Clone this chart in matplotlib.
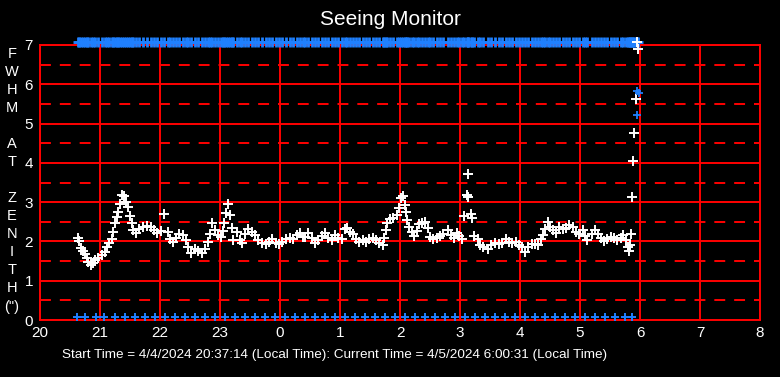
import matplotlib
matplotlib.use('Agg')
from matplotlib import pyplot as plt

plt.rcParams['font.family'] = ['Liberation Sans', 'DejaVu Sans']

# seeing samples (hour of night, 24+ = after midnight) and FWHM in arcsec
times = [20.638, 20.655, 20.683, 20.712, 20.750, 20.778, 20.805, 20.845, 20.878, 20.917,
         20.972, 21.028, 21.083, 21.122, 21.155, 21.195, 21.222, 21.250, 21.278, 21.305,
         21.333, 21.362, 21.400, 21.433, 21.472, 21.500, 21.528, 21.555, 21.600, 21.655,
         21.722, 21.788, 21.845, 21.900, 21.955, 22.012, 22.072, 22.138, 22.167, 22.212,
         22.267, 22.322, 22.378, 22.433, 22.472, 22.517, 22.583, 22.638, 22.695, 22.750,
         22.805, 22.833, 22.872, 22.917, 22.972, 23.017, 23.055, 23.072, 23.095, 23.138,
         23.167, 23.195, 23.222, 23.278, 23.333, 23.362, 23.417, 23.472, 23.528, 23.583,
         23.638, 23.705, 23.762, 23.817, 23.872, 23.928, 23.983, 24.038, 24.095, 24.167,
         24.222, 24.278, 24.333, 24.388, 24.417, 24.472, 24.528, 24.583, 24.638, 24.695,
         24.750, 24.805, 24.862, 24.917, 24.972, 25.028, 25.083, 25.122, 25.167, 25.212,
         25.267, 25.322, 25.378, 25.433, 25.488, 25.545, 25.600, 25.655, 25.712, 25.733,
         25.762, 25.788, 25.833, 25.888, 25.945, 25.978, 26.012, 26.045, 26.078, 26.100,
         26.122, 26.155, 26.195, 26.233, 26.278, 26.322, 26.362, 26.417, 26.462, 26.500,
         26.555, 26.612, 26.667, 26.722, 26.795, 26.850, 26.905, 26.945, 26.983, 27.028,
         27.072, 27.112, 27.128, 27.138, 27.183, 27.195, 27.238, 27.295, 27.333, 27.388,
         27.462, 27.517, 27.583, 27.650, 27.705, 27.762, 27.817, 27.872, 27.928, 27.983,
         28.038, 28.083, 28.138, 28.195, 28.250, 28.305, 28.345, 28.378, 28.417, 28.472,
         28.500, 28.555, 28.600, 28.655, 28.712, 28.767, 28.822, 28.878, 28.933, 28.988,
         29.045, 29.083, 29.122, 29.195, 29.250, 29.305, 29.345, 29.400, 29.455, 29.512,
         29.567, 29.622, 29.678, 29.722, 29.767, 29.805, 29.817, 29.833, 29.850, 29.872,
         29.888, 29.905, 29.933, 29.955, 29.972]
fwhm = [2.10, 2.00, 1.84, 1.76, 1.68, 1.57, 1.48, 1.40, 1.44, 1.54,
        1.59, 1.65, 1.74, 1.87, 1.97, 2.05, 2.25, 2.48, 2.63, 2.76,
        2.95, 3.18, 3.16, 3.01, 2.88, 2.65, 2.46, 2.29, 2.22, 2.31,
        2.37, 2.40, 2.36, 2.29, 2.22, 2.27, 2.71, 2.25, 2.05, 1.99,
        2.08, 2.19, 2.16, 2.04, 1.87, 1.70, 1.82, 1.76, 1.71, 1.82,
        1.99, 2.20, 2.46, 2.29, 2.16, 2.12, 2.27, 2.48, 2.73, 2.95,
        2.67, 2.33, 2.04, 2.25, 2.04, 1.95, 2.20, 2.31, 2.25, 2.16,
        2.04, 1.97, 1.93, 1.99, 2.05, 1.97, 1.93, 1.99, 2.05, 2.10,
        2.05, 2.16, 2.22, 2.12, 2.12, 2.22, 2.08, 1.95, 2.04, 2.14,
        2.22, 2.10, 2.04, 2.16, 2.08, 2.05, 2.31, 2.33, 2.25, 2.19,
        2.05, 1.99, 2.04, 1.99, 2.05, 2.08, 2.04, 1.97, 1.91, 2.10,
        2.29, 2.46, 2.56, 2.59, 2.67, 2.84, 3.10, 3.16, 2.93, 2.76,
        2.55, 2.37, 2.25, 2.14, 2.27, 2.44, 2.48, 2.50, 2.33, 2.12,
        2.05, 2.10, 2.14, 2.20, 2.29, 2.16, 2.10, 2.22, 2.14, 2.05,
        2.65, 3.18, 3.72, 3.12, 2.71, 2.59, 2.14, 2.05, 1.91, 1.85,
        1.82, 1.91, 1.95, 1.93, 1.95, 2.05, 1.99, 1.97, 1.99, 1.91,
        1.85, 1.74, 1.85, 1.93, 1.93, 1.91, 2.05, 2.16, 2.31, 2.50,
        2.37, 2.29, 2.22, 2.37, 2.31, 2.33, 2.42, 2.36, 2.25, 2.20,
        2.29, 2.14, 2.04, 2.20, 2.29, 2.20, 2.08, 2.02, 2.05, 2.12,
        2.10, 2.04, 2.10, 2.16, 2.04, 1.87, 1.76, 1.91, 2.19, 3.12,
        4.05, 4.75, 5.62, 7.07, 6.90]

# blue points near the end of the night
blue_t = [29.945, 29.988, 29.955]
blue_v = [5.84, 5.77, 5.21]

# blue markers along the bottom edge
bottom_t = [20.62, 20.75, 20.93, 21.07, 21.25, 21.42, 21.58, 21.75, 21.92, 22.08,
            22.25, 22.42, 22.58, 22.75, 22.92, 23.08, 23.25, 23.42, 23.58, 23.75,
            23.92, 24.08, 24.25, 24.42, 24.58, 24.75, 24.92, 25.08, 25.25, 25.42,
            25.58, 25.75, 25.92, 26.08, 26.25, 26.42, 26.58, 26.75, 26.92, 27.08,
            27.25, 27.42, 27.58, 27.75, 27.92, 28.08, 28.25, 28.42, 28.58, 28.75,
            28.92, 29.08, 29.25, 29.42, 29.58, 29.75, 29.87]

hour_ticks = list(range(20, 33))
hour_labels = ['20', '21', '22', '23', '0', '1', '2', '3', '4', '5', '6', '7', '8']

red = '#ff0000'
blue = '#1f80ff'

fig = plt.figure(figsize=(7.8, 3.77), dpi=100, facecolor='black')
ax = fig.add_axes([40 / 780, 57 / 377, 720 / 780, 275 / 377], facecolor='black')
ax.set_xlim(20, 32)
ax.set_ylim(0, 7)

# grid: solid at whole numbers, dashed at halves
for h in hour_ticks:
    ax.axvline(h, color=red, lw=1.4, zorder=1)
for y in range(0, 8):
    ax.axhline(y, color=red, lw=1.4, zorder=1)
for y in range(7):
    ax.axhline(y + 0.5, color=red, lw=1.4, dashes=(5.6, 4.6), zorder=1)

for s in ax.spines.values():
    s.set_color(red)
    s.set_linewidth(1.4)

ax.plot(times, [7.07] * len(times), '+', color=blue, ms=6.5, mew=2.0, clip_on=False, zorder=3)
ax.plot(bottom_t, [0.07] * len(bottom_t), '+', color=blue, ms=6, mew=1.4, clip_on=False, zorder=3)
ax.plot(times, fwhm, '+', color='white', ms=6.5, mew=1.4, clip_on=False, zorder=4)
ax.plot(blue_t, blue_v, '+', color=blue, ms=6, mew=1.3, zorder=5)

ax.set_xticks(hour_ticks)
ax.set_xticklabels(hour_labels)
ax.set_yticks(range(8))
ax.tick_params(colors='white', labelsize=11, length=0)
ax.tick_params(axis='x', pad=4)
ax.tick_params(axis='y', pad=5)

fig.text(0.5, 0.947, 'Seeing Monitor', color='white', fontsize=15, ha='center', va='center')
fig.text(12 / 780, 0.5225, 'F\nW\nH\nM\n\nA\nT\n\nZ\nE\nN\nI\nT\nH\n(")', color='white',
         fontsize=10.5, ha='center', va='center', linespacing=1.37)
fig.text(0.4295, 0.0584,
         'Start Time = 4/4/2024 20:37:14 (Local Time): Current Time = 4/5/2024 6:00:31 (Local Time)',
         color='white', fontsize=9.7, ha='center', va='center')

plt.savefig('out.png', dpi=100, facecolor='black')
